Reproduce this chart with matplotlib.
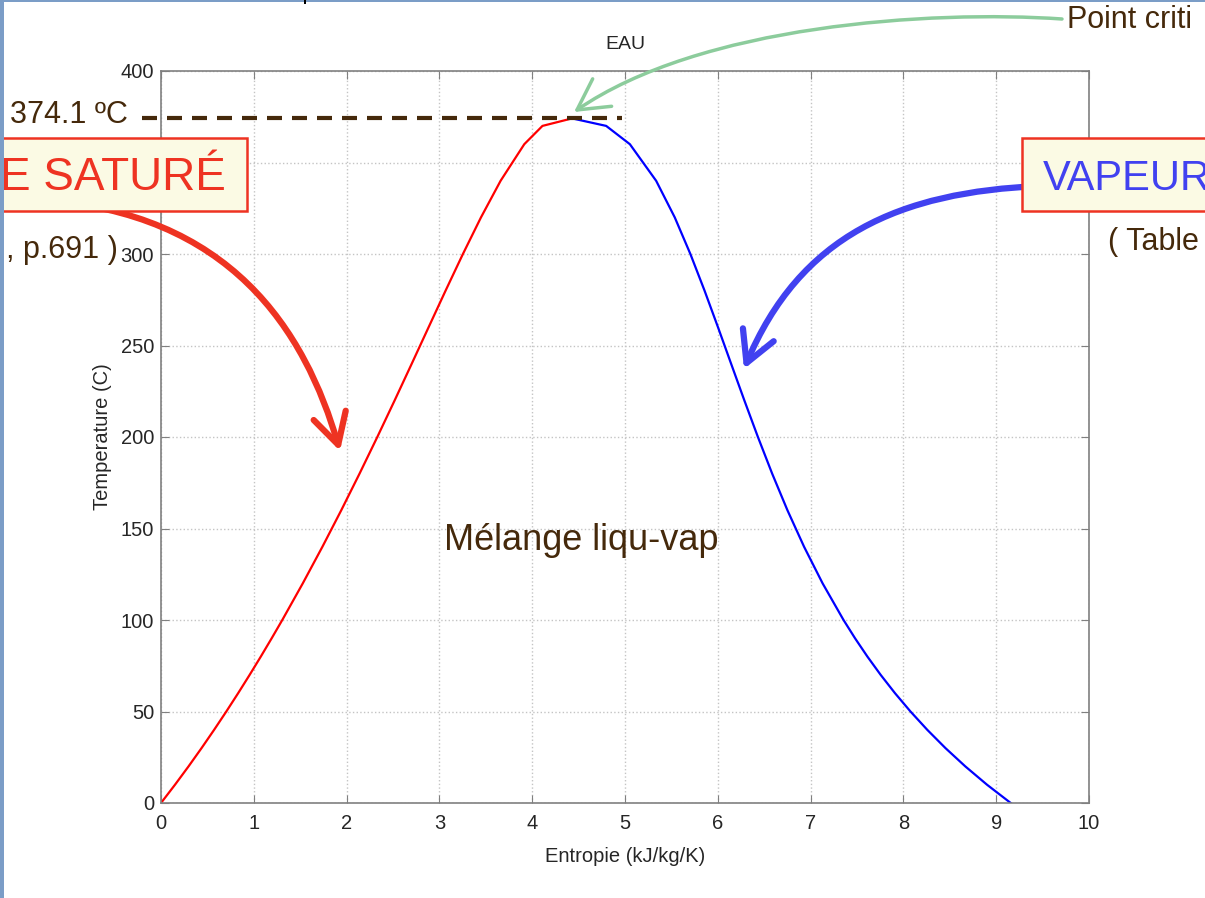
import matplotlib
matplotlib.use('Agg')
import matplotlib.pyplot as plt
from matplotlib.patches import FancyArrowPatch, Rectangle
from matplotlib.path import Path

plt.rcParams['font.family'] = ['Liberation Sans', 'DejaVu Sans']

# saturation curve of water
temp = [0.01, 10, 20, 30, 40, 50, 60, 70, 80, 90, 100, 120, 140, 160, 180,
        200, 220, 240, 260, 280, 300, 320, 340, 360, 370, 374.1]
s_liq = [0.0, 0.151, 0.2966, 0.4369, 0.5725, 0.7038, 0.8312, 0.9549, 1.0753,
         1.1925, 1.3069, 1.5276, 1.7391, 1.9427, 2.1396, 2.3309, 2.5178,
         2.7015, 2.8838, 3.0668, 3.2534, 3.448, 3.6594, 3.9147, 4.1106, 4.4298]
s_vap = [9.1562, 8.9008, 8.6672, 8.4533, 8.257, 8.0763, 7.9096, 7.7553, 7.6122,
         7.4791, 7.3549, 7.1296, 6.9299, 6.7502, 6.5857, 6.4323, 6.2861,
         6.1437, 6.0019, 5.8571, 5.7045, 5.5362, 5.3357, 5.0526, 4.7971, 4.4298]
t_crit = 374.1
crit_line_x = [-0.2, 4.97]

W, H = 1205, 898
brown = '#45290b'
red = '#ee3322'
blue = '#4141f0'


def fp(x, y):
    # image pixel -> figure fraction
    return (x / W, 1 - y / H)


fig = plt.figure(figsize=(W / 100, H / 100), dpi=100)
ax = fig.add_axes([161 / W, 1 - 803 / H, 928 / W, 732 / H])

ax.plot(s_liq, temp, color='#ff0000', lw=1.6)
ax.plot(s_vap, temp, color='#0000ff', lw=1.6)
ax.plot(crit_line_x, [t_crit, t_crit], color=brown, lw=3,
        linestyle=(0, (3.6, 2.4)), clip_on=False, zorder=5)

ax.set_xlim(0, 10)
ax.set_ylim(0, 400)
ax.set_xticks(range(0, 11))
ax.set_yticks(range(0, 401, 50))
ax.grid(True, color='#c4c4c4', linestyle=':', lw=1)
ax.tick_params(direction='in', length=6, top=True, right=True,
               color='#808080', labelsize=14.5, labelcolor='#262626')
ax.tick_params(axis='x', pad=8)
ax.tick_params(axis='y', pad=5)
for sp in ax.spines.values():
    sp.set_color('#808080')
    sp.set_linewidth(1.2)
ax.set_title('EAU', fontsize=14, color='#262626', pad=16)
ax.set_xlabel('Entropie (kJ/kg/K)', fontsize=14.5, color='#262626', labelpad=10)
ax.set_ylabel('Temperature (C)', fontsize=14.5, color='#262626', labelpad=6)

ax.text(4.53, 143.7, 'Mélange liqu-vap', fontsize=26, color=brown,
        ha='center', va='center')

# slide annotations
fig.text(*fp(10, 123), '374.1 ºC', fontsize=22, color=brown, va='baseline')
fig.text(*fp(118, 258), ', p.691 )', fontsize=22, color=brown,
         ha='right', va='baseline')
fig.text(*fp(1108, 250), '( Table', fontsize=22, color=brown, va='baseline')
fig.text(*fp(1067, 28), 'Point criti', fontsize=22, color=brown, va='baseline')


def curve(pts, color, lw, zorder=6):
    verts = [fp(x, y) for x, y in pts]
    p = Path(verts, [Path.MOVETO, Path.CURVE4, Path.CURVE4, Path.CURVE4])
    a = FancyArrowPatch(path=p, arrowstyle='->,head_length=2.2,head_width=1.2',
                        mutation_scale=10, lw=lw, color=color,
                        transform=fig.transFigure, zorder=zorder)
    a.set_capstyle('round')
    a.set_joinstyle('round')
    fig.add_artist(a)


curve([(40, 200), (230, 212), (305, 330), (340, 451)], red, 4.5)
curve([(1040, 186), (900, 192), (800, 235), (744, 369)], blue, 4.5)
curve([(1062, 19), (930, 10), (700, 25), (574, 112)], '#8ccc9c', 2.5)

# boxes
for x0, x1, txt, tx, fs, col in [(-5, 247, 'E SATURÉ', 0, 33, red),
                                 (1022, 1215, 'VAPEUR', 1043, 30, blue)]:
    x, y = fp(x0, 211)
    r = Rectangle((x, y), (x1 - x0) / W, 73 / H, transform=fig.transFigure,
                  facecolor='#fbfae4', edgecolor=red, lw=1.8, zorder=8)
    fig.add_artist(r)
    fig.text(*fp(tx, 190), txt, fontsize=fs, color=col, va='baseline', zorder=9)

# slide border
fig.add_artist(Rectangle((0, 0), 4 / W, 1, transform=fig.transFigure,
                         facecolor='#7b9dc7', edgecolor='none', zorder=10))
fig.add_artist(Rectangle((0, 1 - 2 / H), 1, 2 / H, transform=fig.transFigure,
                         facecolor='#7b9dc7', edgecolor='none', zorder=10))
fig.add_artist(Rectangle((304 / W, 1 - 4 / H), 2 / W, 4 / H,
                         transform=fig.transFigure, facecolor='black',
                         edgecolor='none', zorder=11))

fig.savefig('out.png', dpi=100)
